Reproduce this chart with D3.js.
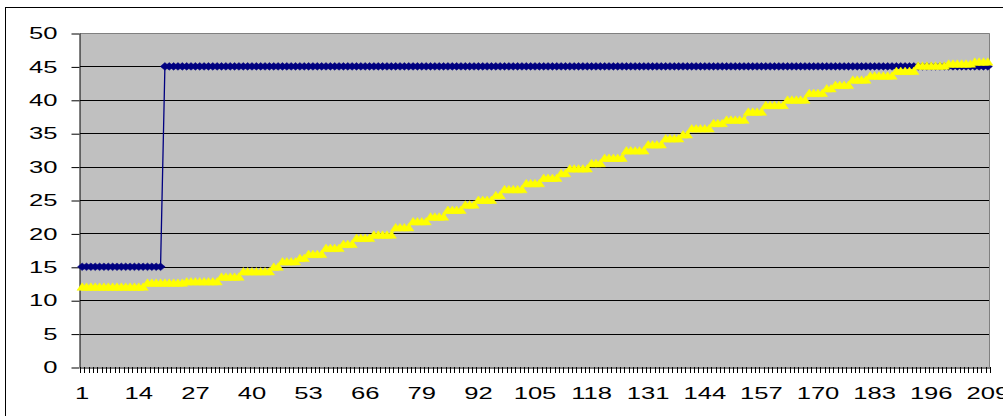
<!DOCTYPE html>
<html><head><meta charset="utf-8">
<script src="https://cdn.jsdelivr.net/npm/d3@7"></script>
<style>
body{margin:0;background:#fff;overflow:hidden}
svg{display:block}
text{font-family:"Liberation Sans",Arial,sans-serif;fill:#000}
</style>
</head><body>
<svg id="c" width="1003" height="416"></svg>
<script>
// ---- data ----
const categoryCount = 209;
const xTickLabels = [1,14,27,40,53,66,79,92,105,118,131,144,157,170,183,196,209];
const yTickValues = [0,5,10,15,20,25,30,35,40,45,50];

const blueSeries = [
15,15,15,15,15,15,15,15,15,15,15,15,15,15,15,15,15,15,15,
45,45,45,45,45,45,45,45,45,45,
45,45,45,45,45,45,45,45,45,45,
45,45,45,45,45,45,45,45,45,45,
45,45,45,45,45,45,45,45,45,45,
45,45,45,45,45,45,45,45,45,45,
45,45,45,45,45,45,45,45,45,45,
45,45,45,45,45,45,45,45,45,45,
45,45,45,45,45,45,45,45,45,45,
45,45,45,45,45,45,45,45,45,45,
45,45,45,45,45,45,45,45,45,45,
45,45,45,45,45,45,45,45,45,45,
45,45,45,45,45,45,45,45,45,45,
45,45,45,45,45,45,45,45,45,45,
45,45,45,45,45,45,45,45,45,45,
45,45,45,45,45,45,45,45,45,45,
45,45,45,45,45,45,45,45,45,45,
45,45,45,45,45,45,45,45,45,45,
45,45,45,45,45,45,45,45,45,45,
45,45,45,45,45,45,45,45,45,45
];

const yellowSeries = [
12,12,12,12,12,12,12,12,12,12,12,12,12,12,12,
12.6,12.6,12.6,12.6,12.6,12.6,12.6,12.6,12.6,
12.8,12.8,12.8,12.8,12.8,12.8,12.8,12.8,
13.5,13.5,13.5,13.5,13.5,
14.3,14.3,14.3,14.3,14.3,14.3,14.3,
15,15,
15.8,15.8,15.8,15.8,
16.3,16.3,
16.9,16.9,16.9,16.9,
17.8,17.8,17.8,17.8,
18.4,18.4,18.4,
19.3,19.3,19.3,19.3,
19.8,19.8,19.8,19.8,19.8,
20.9,20.9,20.9,20.9,
21.8,21.8,21.8,21.8,
22.5,22.5,22.5,22.5,
23.5,23.5,23.5,23.5,
24.3,24.3,24.3,
25,25,25,25,
25.7,25.7,
26.6,26.6,26.6,26.6,26.6,
27.5,27.5,27.5,27.5,
28.3,28.3,28.3,28.3,
29,29,
29.7,29.7,29.7,29.7,29.7,
30.5,30.5,30.5,
31.3,31.3,31.3,31.3,31.3,
32.4,32.4,32.4,32.4,32.4,
33.3,33.3,33.3,33.3,
34.2,34.2,34.2,34.2,
34.8,34.8,
35.7,35.7,35.7,35.7,35.7,
36.5,36.5,36.5,
37,37,37,37,37,
38.2,38.2,38.2,38.2,
39.2,39.2,39.2,39.2,39.2,
40,40,40,40,40,
41,41,41,41,
41.7,41.7,
42.2,42.2,42.2,42.2,
43,43,43,43,
43.6,43.6,43.6,43.6,43.6,43.6,
44.3,44.3,44.3,44.3,44.3,
45.1,45.1,45.1,45.1,45.1,45.1,45.1,
45.4,45.4,45.4,45.4,45.4,45.4,
45.7,45.7,45.7,45.7
];

// ---- layout ----
const svg = d3.select("#c");
const plot = {left:80, right:990, top:33, bottom:367};
const categories = blueSeries.map((d,i)=>i+1);
const STRETCH = 1.6;

const x = d3.scaleBand().domain(categories).range([plot.left, plot.right]).padding(0);
const xc = c => x(c) + x.bandwidth()/2;
const y = d3.scaleLinear().domain([0,50]).range([plot.bottom, plot.top]);

// outer chart border
svg.append("rect").attr("x",5.5).attr("y",7.5).attr("width",1100).attr("height",500)
  .attr("fill","#fff").attr("stroke","#000").attr("stroke-width",1);

// plot area
svg.append("rect").attr("x",plot.left).attr("y",plot.top)
  .attr("width",plot.right-plot.left).attr("height",plot.bottom-plot.top)
  .attr("fill","#C0C0C0");

// gridlines
svg.append("g").selectAll("line").data(yTickValues.filter(v=>v>0 && v<50)).join("line")
  .attr("x1",plot.left).attr("x2",plot.right)
  .attr("y1",d=>Math.round(y(d))+0.5).attr("y2",d=>Math.round(y(d))+0.5)
  .attr("stroke","#000").attr("stroke-width",1);

// plot border top/right (grey)
svg.append("path")
  .attr("d",`M${plot.left},${plot.top+0.5}H${plot.right-0.5}V${plot.bottom}`)
  .attr("fill","none").attr("stroke","#808080").attr("stroke-width",1);

// y axis
const yAxis = svg.append("g").attr("transform",`translate(${plot.left-0.5},0)`)
  .call(d3.axisLeft(y).tickValues(yTickValues).tickSize(8).tickSizeOuter(0).tickPadding(0));
yAxis.select(".domain").attr("stroke","#000");
yAxis.selectAll(".tick line").attr("stroke","#000")
  .attr("transform",function(){return "translate(0,0.5)";});
yAxis.selectAll(".tick text")
  .attr("x",0).attr("dy","0.36em").attr("text-anchor","end")
  .attr("font-size","16px")
  .attr("transform",`translate(-22,0) scale(${STRETCH},1)`);

// x axis labels
const xAxis = svg.append("g").attr("transform",`translate(0,${plot.bottom+0.5})`)
  .call(d3.axisBottom(x).tickValues(xTickLabels).tickSize(0).tickSizeOuter(0).tickPadding(0));
xAxis.select(".domain").attr("stroke","#000");
xAxis.selectAll(".tick text")
  .attr("y",0).attr("dy",0).attr("text-anchor","middle")
  .attr("font-size","16px")
  .attr("transform",`translate(0,31) scale(${STRETCH},1)`);

// x axis boundary tick marks (one per category boundary)
const xb = d3.scaleLinear().domain([0,categoryCount]).range([plot.left, plot.right]);
svg.append("g").attr("transform",`translate(0,${plot.bottom})`)
  .selectAll("line").data(d3.range(0,categoryCount+1)).join("line")
  .attr("x1",d=>Math.round(xb(d))+0.5).attr("x2",d=>Math.round(xb(d))+0.5)
  .attr("y1",0).attr("y2",6).attr("stroke","#000").attr("stroke-width",1);

// series
function drawSeries(values, color, markerPath){
  const g = svg.append("g");
  g.append("path").datum(values)
    .attr("d", d3.line().x((d,i)=>xc(categories[i])).y(d=>y(d)))
    .attr("fill","none").attr("stroke",color).attr("stroke-width",1.3);
  g.selectAll("path.m").data(values).join("path").attr("class","m")
    .attr("d",markerPath)
    .attr("transform",(d,i)=>`translate(${xc(categories[i])},${y(d)})`)
    .attr("fill",color).attr("stroke",color).attr("stroke-width",0.5);
}
drawSeries(blueSeries, "#000080", "M0,-3.8L4.6,0L0,3.8L-4.6,0Z");
drawSeries(yellowSeries, "#FFFF00", "M0,-4L5.2,3.5L-5.2,3.5Z");
</script>
</body></html>
